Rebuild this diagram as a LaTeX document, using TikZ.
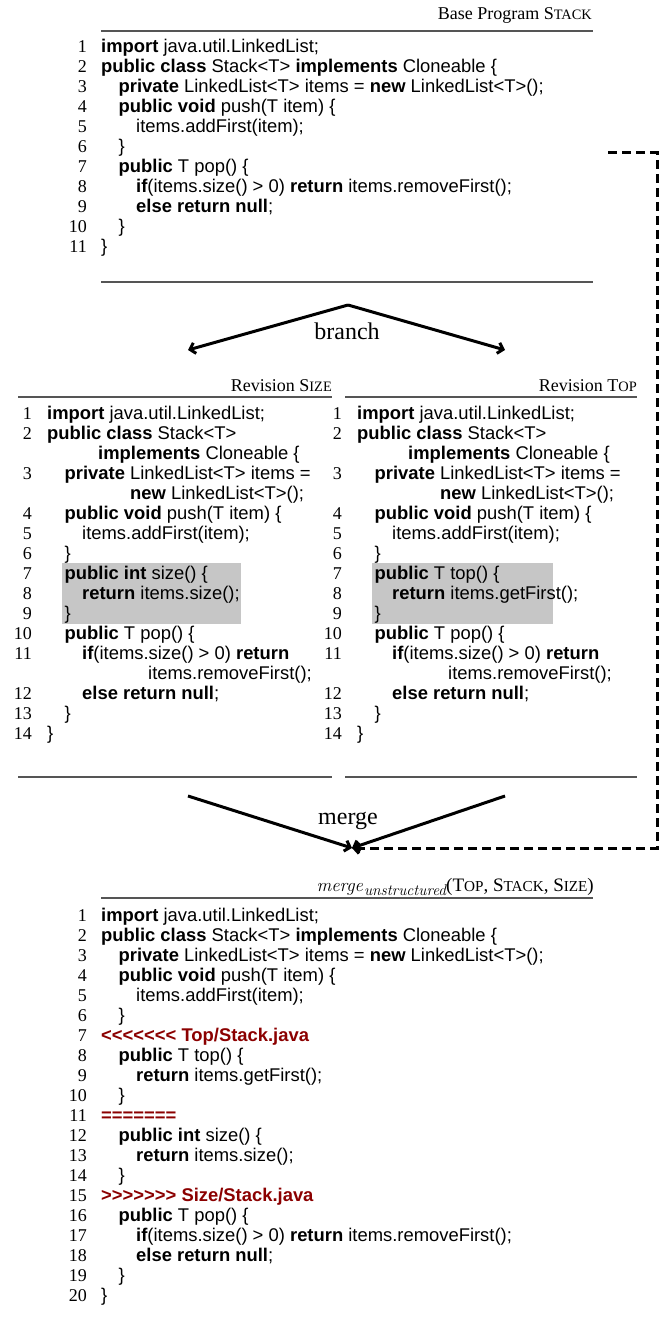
\documentclass[tikz,border=0pt]{standalone}
\usepackage{fontspec}
\setmainfont{Liberation Serif}
\newfontfamily\codefont[Ligatures=TeXOff]{Liberation Sans}
\usetikzlibrary{arrows.meta}

\definecolor{conflictred}{RGB}{139,0,0}
\definecolor{hlgray}{RGB}{198,198,198}
\definecolor{rulegray}{RGB}{85,85,85}

% small capitals built from two sizes of capitals
\newcommand\fsc[2]{#1{\fontsize{14.4}{16}\selectfont #2}}
\newcommand\fscl[2]{#1{\fontsize{15.2}{16}\selectfont #2}}
% italic function name with a lowered index, set in Latin Modern
\newcommand\fnname[2]{{\fontfamily{lmr}\fontsize{18.5}{20}\itshape #1\kern1pt\raisebox{-4pt}{\fontsize{15.5}{16}\selectfont #2}}}
% conflict markers, kept apart so no font mapping touches them
\newcommand\markopen{<\kern0pt<\kern0pt<\kern0pt<\kern0pt<\kern0pt<\kern0pt<}
\newcommand\markclose{>\kern0pt>\kern0pt>\kern0pt>\kern0pt>\kern0pt>\kern0pt>}
\newcommand\kw[1]{\textbf{#1}}

\begin{document}
\begin{tikzpicture}[x=1pt,y=-1pt,
  code/.style={anchor=base west,inner sep=0pt,font=\codefont\fontsize{18.4}{20}\selectfont},
  conflict/.style={code,text=conflictred,font=\codefont\bfseries\fontsize{18.4}{20}\selectfont},
  lnum/.style={anchor=base east,inner sep=0pt,font=\fontsize{18}{20}\selectfont},
  hdr/.style={anchor=base east,inner sep=0pt,font=\fontsize{18}{20}\selectfont},
  flowlabel/.style={anchor=base,inner sep=0pt,font=\fontsize{24}{26}\selectfont},
  rule/.style={draw=rulegray,line width=1.5pt},
  flow/.style={line width=3pt,-{Straight Barb[length=5pt,width=11pt]}},
  dashflow/.style={flow,dash pattern=on 9pt off 5pt}]
\useasboundingbox (0,0) rectangle (665,1337);

% ---------------- base program ----------------
\node[hdr] (basehdr) at (592,20) {Base Program \fsc{S}{TACK}};
\draw[rule] (101,31) -- (593,31);
\foreach \i in {1,...,11} \node[lnum] (bn\i) at (87,{53+20*(\i-1)}) {\i};
\node[code] (b1)  at (101,53)   {\kw{import} java.util.LinkedList;};
\node[code] (b2)  at (101,73)   {\kw{public class} Stack<T> \kw{implements} Cloneable \{};
\node[code] (b3)  at (118.5,93) {\kw{private} LinkedList<T> items = \kw{new} LinkedList<T>();};
\node[code] (b4)  at (118.5,113){\kw{public void} push(T item) \{};
\node[code] (b5)  at (136,133)  {items.addFirst(item);};
\node[code] (b6)  at (118.5,153){\}};
\node[code] (b7)  at (118.5,173){\kw{public} T pop() \{};
\node[code] (b8)  at (136,193)  {\kw{if}(items.size() > 0) \kw{return} items.removeFirst();};
\node[code] (b9)  at (136,213)  {\kw{else return null};};
\node[code] (b10) at (118.5,233){\}};
\node[code] (b11) at (101,253)  {\}};
\draw[rule] (101,282) -- (593,282);

% ---------------- branch ----------------
\coordinate (fork) at (348,305);
\coordinate (sizein) at (188,350);
\coordinate (topin) at (505,350);
\draw[flow] (fork) -- (sizein);
\draw[flow] (fork) -- (topin);
\node[flowlabel] (branchlbl) at (347,339) {branch};

% ---------------- revisions ----------------
\node[hdr] (sizehdr) at (332,391) {Revision \fsc{S}{IZE}};
\node[hdr] (tophdr) at (637,391) {Revision \fsc{T}{OP}};
\draw[rule] (18,397) -- (332,397);
\draw[rule] (345,397) -- (637,397);

\fill[hlgray] (62,563) rectangle (241,624);
\fill[hlgray] (372,563) rectangle (553,624);

\foreach \n/\r in {1/0,2/1,3/3,4/5,5/6,6/7,7/8,8/9,9/10,10/11,11/12,12/14,13/15,14/16}{
  \node[lnum] (sn\n) at (32,{419+20*\r}) {\n};
  \node[lnum] (tn\n) at (342,{419+20*\r}) {\n};
}

% revision Size
\node[code] (s1)  at (47,419)   {\kw{import} java.util.LinkedList;};
\node[code] (s2)  at (47,439)   {\kw{public class} Stack<T>};
\node[code] (s2b) at (98,459)   {\kw{implements} Cloneable \{};
\node[code] (s3)  at (64.5,479) {\kw{private} LinkedList<T> items =};
\node[code] (s3b) at (130,499)  {\kw{new} LinkedList<T>();};
\node[code] (s4)  at (64.5,519) {\kw{public void} push(T item) \{};
\node[code] (s5)  at (82,539)   {items.addFirst(item);};
\node[code] (s6)  at (64.5,559) {\}};
\node[code] (s7)  at (64.5,579) {\kw{public int} size() \{};
\node[code] (s8)  at (82,599)   {\kw{return} items.size();};
\node[code] (s9)  at (64.5,619) {\}};
\node[code] (s10) at (64.5,639) {\kw{public} T pop() \{};
\node[code] (s11) at (82,659)   {\kw{if}(items.size() > 0) \kw{return}};
\node[code] (s11b) at (148,679) {items.removeFirst();};
\node[code] (s12) at (82,699)   {\kw{else return null};};
\node[code] (s13) at (64.5,719) {\}};
\node[code] (s14) at (47,739)   {\}};

% revision Top
\node[code] (t1)  at (357,419)   {\kw{import} java.util.LinkedList;};
\node[code] (t2)  at (357,439)   {\kw{public class} Stack<T>};
\node[code] (t2b) at (408,459)   {\kw{implements} Cloneable \{};
\node[code] (t3)  at (374.5,479) {\kw{private} LinkedList<T> items =};
\node[code] (t3b) at (440,499)   {\kw{new} LinkedList<T>();};
\node[code] (t4)  at (374.5,519) {\kw{public void} push(T item) \{};
\node[code] (t5)  at (392,539)   {items.addFirst(item);};
\node[code] (t6)  at (374.5,559) {\}};
\node[code] (t7)  at (374.5,579) {\kw{public} T top() \{};
\node[code] (t8)  at (392,599)   {\kw{return} items.getFirst();};
\node[code] (t9)  at (374.5,619) {\}};
\node[code] (t10) at (374.5,639) {\kw{public} T pop() \{};
\node[code] (t11) at (392,659)   {\kw{if}(items.size() > 0) \kw{return}};
\node[code] (t11b) at (448,679)  {items.removeFirst();};
\node[code] (t12) at (392,699)   {\kw{else return null};};
\node[code] (t13) at (374.5,719) {\}};
\node[code] (t14) at (357,739)   {\}};

\draw[rule] (18,777) -- (332,777);
\draw[rule] (345,777) -- (637,777);

% ---------------- merge ----------------
\coordinate (sizeout) at (188,796);
\coordinate (topout) at (505,796);
\coordinate (join) at (352,848);
\coordinate (basetap) at (608,153);
\coordinate (railtop) at (657,153);
\coordinate (railbot) at (657,848);
\draw[flow] (sizeout) -- (join);
\draw[flow] (topout) -- (join);
\draw[dashflow] (basetap) -- (railtop) -- (railbot) -- (join);
\node[flowlabel] (mergelbl) at (348,824) {merge};

% ---------------- merged result ----------------
\node[hdr,font=\fontsize{19}{21}\selectfont] (mergehdr) at (594,891)
  {\fnname{merge}{unstructured}(\fscl{T}{OP}, \fscl{S}{TACK}, \fscl{S}{IZE})};
\draw[rule] (101,898) -- (593,898);
\foreach \i in {1,...,20} \node[lnum] (mn\i) at (87,{921+20*(\i-1)}) {\i};
\node[code] (m1)  at (101,921)   {\kw{import} java.util.LinkedList;};
\node[code] (m2)  at (101,941)   {\kw{public class} Stack<T> \kw{implements} Cloneable \{};
\node[code] (m3)  at (118.5,961) {\kw{private} LinkedList<T> items = \kw{new} LinkedList<T>();};
\node[code] (m4)  at (118.5,981) {\kw{public void} push(T item) \{};
\node[code] (m5)  at (136,1001)  {items.addFirst(item);};
\node[code] (m6)  at (118.5,1021){\}};
\node[conflict] (m7) at (101,1041) {\markopen{} Top/Stack.java};
\node[code] (m8)  at (118.5,1061){\kw{public} T top() \{};
\node[code] (m9)  at (136,1081)  {\kw{return} items.getFirst();};
\node[code] (m10) at (118.5,1101){\}};
\node[conflict] (m11) at (101,1121) {=\kern0pt=\kern0pt=\kern0pt=\kern0pt=\kern0pt=\kern0pt=};
\node[code] (m12) at (118.5,1141){\kw{public int} size() \{};
\node[code] (m13) at (136,1161)  {\kw{return} items.size();};
\node[code] (m14) at (118.5,1181){\}};
\node[conflict] (m15) at (101,1201) {\markclose{} Size/Stack.java};
\node[code] (m16) at (118.5,1221){\kw{public} T pop() \{};
\node[code] (m17) at (136,1241)  {\kw{if}(items.size() > 0) \kw{return} items.removeFirst();};
\node[code] (m18) at (136,1261)  {\kw{else return null};};
\node[code] (m19) at (118.5,1281){\}};
\node[code] (m20) at (101,1301)  {\}};
\end{tikzpicture}
\end{document}
